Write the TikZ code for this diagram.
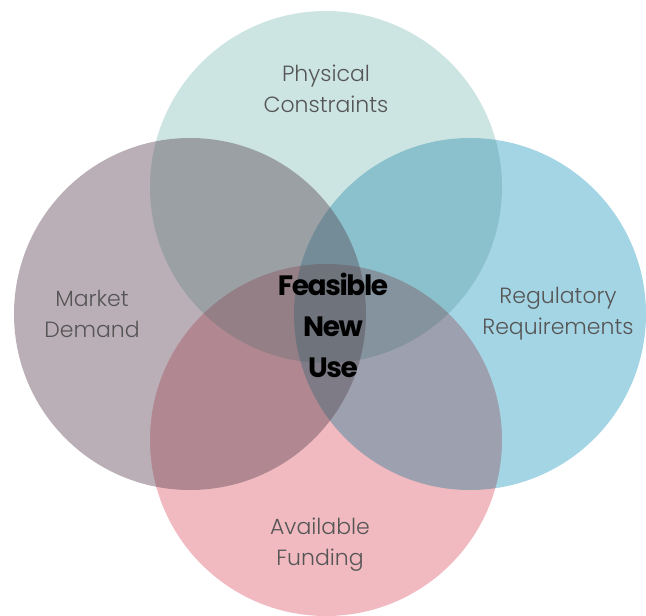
\documentclass[tikz,border=0pt]{standalone}
\usepackage{fontspec}
\setmainfont{Poppins}[UprightFont={* Light},BoldFont={* SemiBold}]
\newfontfamily\corefont{Poppins}[UprightFont={* Bold},LetterSpace=-5]
\usepackage{tikz}
\usetikzlibrary{calc}
\definecolor{physcol}{RGB}{182,218,214}
\definecolor{markcol}{RGB}{158,141,152}
\definecolor{regcol}{RGB}{126,195,218}
\definecolor{fundcol}{RGB}{234,156,165}
\definecolor{labcol}{RGB}{85,85,85}

\begin{document}
\begin{tikzpicture}[x=1pt,y=-1pt,
    lab/.style={text=labcol,align=center,font=\fontsize{22}{31}\selectfont},
    core/.style={text=black,align=center,font=\corefont\fontsize{28}{41}\selectfont}]
                      \useasboundingbox (0,0) rectangle (646,616);
                      \begin{scope}[transparency group,opacity=0.7]
                      \begin{scope}[blend group=multiply]
                      \fill[physcol] (326,187) circle (176pt);
                      \fill[markcol] (190,314) circle (176pt);
                      \fill[regcol] (470,314) circle (176pt);
                      \fill[fundcol] (326,440) circle (176pt);
                      \end{scope}
                      \end{scope}
                      \node[lab](phys)at(326,89){Physical\\Constraints};
                      \node[lab](mark)at(92,314){Market\\Demand};
                      \node[lab](reg)at(558,314){Regulatory\\Requirements};
                      \node[lab](fund)at(320,545){Available\\Funding};
                      \node[core](feas)at(333,325){Feasible\\New\\Use};
                  \end{tikzpicture}
\end{document}
